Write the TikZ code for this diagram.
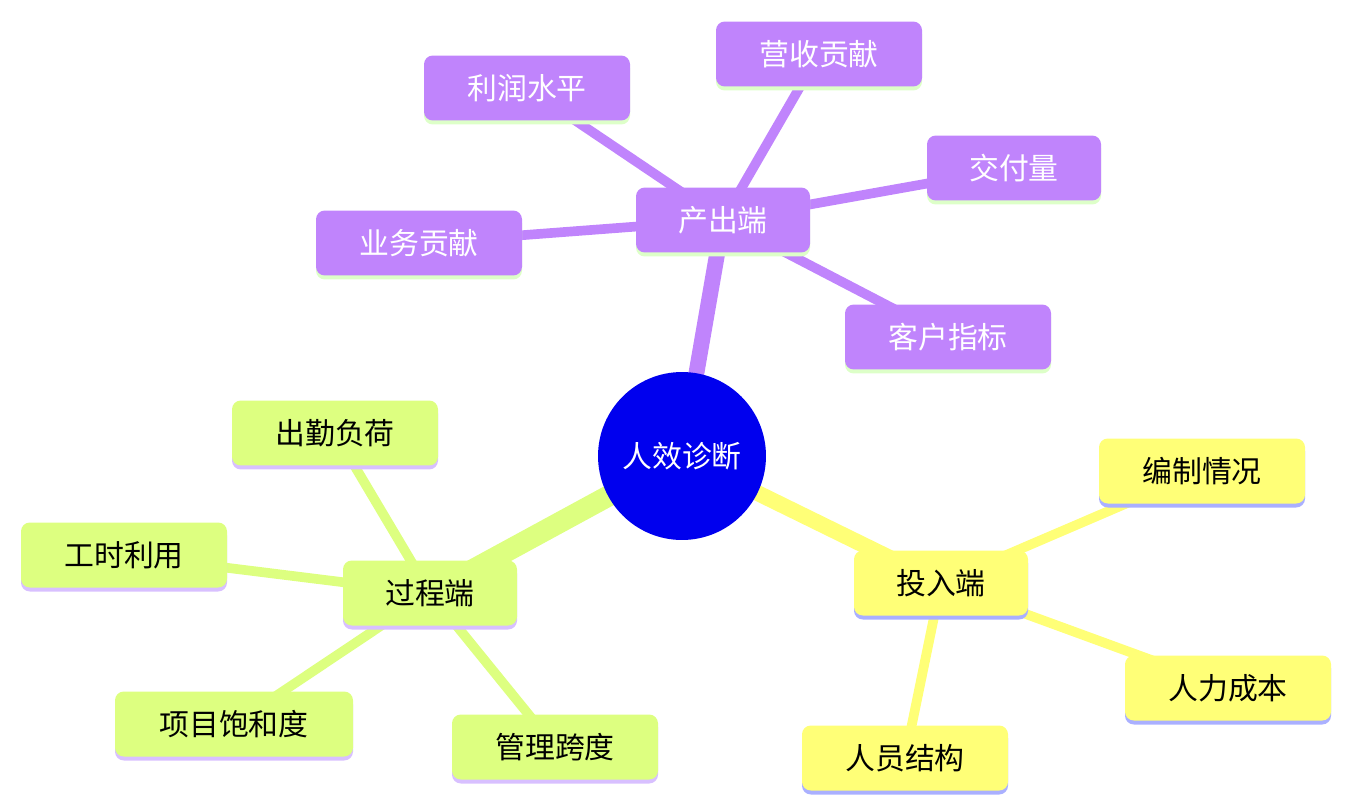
\documentclass[tikz,border=0pt]{standalone}
\usepackage{fontspec}
\setmainfont{Noto Sans CJK SC}
\usetikzlibrary{backgrounds,positioning}
\definecolor{lila}{HTML}{C084FC}
\definecolor{lilaband}{HTML}{DDFFC8}
\definecolor{gelb}{HTML}{FFFF77}
\definecolor{gelbband}{HTML}{AAB0FF}
\definecolor{gruen}{HTML}{DDFF80}
\definecolor{gruenband}{HTML}{D8C0FF}
\definecolor{kern}{HTML}{0000EE}
\tikzset{
  ast/.style={rounded corners=5pt,minimum width=#1*0.02cm,minimum height=1.3cm,inner sep=0pt,font=\fontsize{17}{20}\selectfont},
  band/.style={rounded corners=5pt,minimum height=1.3cm,inner sep=0pt},
  zweig/.style={line width=5.5pt},
  stamm/.style={line width=9pt}
}
\begin{document}
\begin{tikzpicture}[x=0.02cm,y=-0.02cm]
\useasboundingbox (0,0) rectangle (1351,811);
\node[circle,fill=kern,minimum size=3.36cm,text=white,font=\fontsize{17}{20}\selectfont] (kern) at (682,456) {人效诊断};
%Knoten: Name/x/y/Breite/Text
\foreach \n/\x/\y/\w/\t in {chan/723/220/174/产出端,lirun/527/88/206/利润水平,yingshou/819/54/206/营收贡献,jiaofu/1014/168/174/交付量,yewu/419/243/206/业务贡献,kehu/948/337/206/客户指标}{
  \node[band,fill=lilaband,minimum width=\w*0.02cm] (\n b) at (\x,\y+4) {};
  \node[ast=\w,fill=lila,text=white] (\n) at (\x,\y) {\t};
}
\foreach \n/\x/\y/\w/\t in {tou/941/583/174/投入端,bianzhi/1202/471/206/编制情况,renli/1228/688/206/人力成本,renyuan/905/758/206/人员结构}{
  \node[band,fill=gelbband,minimum width=\w*0.02cm] (\n b) at (\x,\y+4) {};
  \node[ast=\w,fill=gelb] (\n) at (\x,\y) {\t};
}
\foreach \n/\x/\y/\w/\t in {guo/430/593/174/过程端,chuqin/335/433/206/出勤负荷,gongshi/124/555/206/工时利用,xiangmu/234/724/238/项目饱和度,guanli/555/747/206/管理跨度}{
  \node[band,fill=gruenband,minimum width=\w*0.02cm] (\n b) at (\x,\y+4) {};
  \node[ast=\w,fill=gruen] (\n) at (\x,\y) {\t};
}
\begin{scope}[on background layer]
\draw[stamm,lila] (kern.center) -- (chan.center);
\draw[stamm,gelb] (kern.center) -- (tou.center);
\draw[stamm,line width=12pt,gruen] (kern.center) -- (guo.center);
\foreach \z in {lirun,yingshou,jiaofu,yewu,kehu} \draw[zweig,lila] (chan.center) -- (\z.center);
\foreach \z in {bianzhi,renli,renyuan} \draw[zweig,gelb] (tou.center) -- (\z.center);
\foreach \z in {chuqin,gongshi,xiangmu,guanli} \draw[zweig,gruen] (guo.center) -- (\z.center);
\end{scope}
\end{tikzpicture}
\end{document}
